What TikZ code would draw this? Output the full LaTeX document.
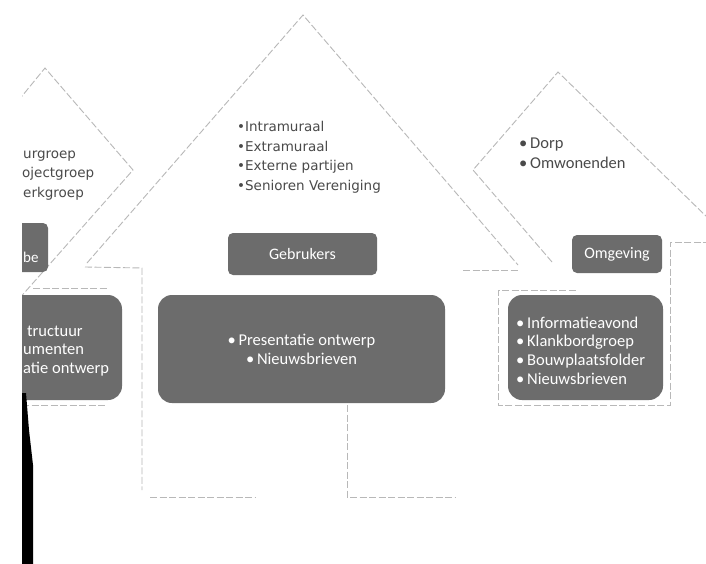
\documentclass[tikz,border=0pt]{standalone}
\usepackage{fontspec}
\setmainfont{DejaVu Sans}
\newfontfamily\carl{Carlito}
\definecolor{boxgray}{HTML}{6C6C6C}
\definecolor{txtgray}{HTML}{4A4A4A}
\definecolor{linegray}{HTML}{B8B8B8}
\tikzset{
  outline/.style={draw=linegray, line width=0.9pt, dash pattern=on 7pt off 2.5pt},
  labelbox/.style={fill=boxgray, rounded corners=5pt, text=white, inner sep=0pt,
    font=\carl\fontsize{16}{19}\selectfont},
  contentbox/.style={fill=boxgray, rounded corners=14pt, text=white, inner sep=0pt,
    align=center, font=\carl\fontsize{16.5}{19}\selectfont},
  listtxt/.style={text=txtgray, anchor=base west, inner sep=0pt,
    font=\fontsize{13.5}{19}\selectfont},
  rlisttxt/.style={text=txtgray, anchor=base west, inner sep=0pt,
    font=\carl\fontsize{16.5}{19}\selectfont},
  wtxt/.style={text=white, anchor=base west, inner sep=0pt,
    font=\carl\fontsize{16.5}{19}\selectfont}
}
\begin{document}
\begin{tikzpicture}[x=1pt,y=-1pt]
\useasboundingbox[fill=white] (0,0) rectangle (706,564);
\begin{scope}
\clip (22,0) rectangle (706,564);
% outlines of the three house shapes
\draw[outline] (87,263) -- (303,15) -- (518,265);
\draw[outline] (85,267) -- (142,268) -- (142,490);
\draw[outline] (463,270) -- (520,270);
\draw[outline] (150,497) -- (255,497);
\draw[outline] (347,405) -- (347,497) -- (455,497);
\draw[outline] (18,101) -- (45,68) -- (133,170) -- (18,300);
\draw[outline] (33,288) -- (107,288);
\draw[outline] (22,405) -- (107,405);
\draw[outline] (552,262) -- (473,170) -- (558,72) -- (710,220);
\draw[outline] (710,242) -- (670,242) -- (670,405) -- (498,405) -- (498,290) -- (577,290);
% left house
\node[listtxt] (l1) at (23,159) {urgroep};
\node[listtxt] (l2) at (22,178) {ojectgroep};
\node[listtxt] (l3) at (23,197) {erkgroep};
\fill[boxgray, rounded corners=5pt] (0,223) rectangle (48,272);
\node[wtxt, font=\carl\fontsize{15}{19}\selectfont] (lb) at (23,262) {be};
\fill[boxgray, rounded corners=14pt] (0,295) rectangle (122,400);
\node[wtxt] (lc1) at (27,336) {tructuur};
\node[wtxt] (lc2) at (23,354) {umenten};
\node[wtxt] (lc3) at (23,373) {atie ontwerp};
% central house
\node[listtxt] (c1) at (237,132) {•Intramuraal};
\node[listtxt] (c2) at (237,151.5) {•Extramuraal};
\node[listtxt] (c3) at (237,171) {•Externe partijen};
\node[listtxt] (c4) at (237,190) {•Senioren Vereniging};
\node[labelbox, minimum width=149pt, minimum height=42pt] (geb) at (302.5,254) {Gebrukers};
\node[contentbox, minimum width=287pt, minimum height=108pt] (ccont) at (301.5,349)
  {•\,Presentatie ontwerp\\ •\,Nieuwsbrieven};
% right house
\node[rlisttxt] (r1) at (519,149) {•\,Dorp};
\node[rlisttxt] (r2) at (519,169) {•\,Omwonenden};
\node[labelbox, minimum width=90pt, minimum height=38pt] (omg) at (617,254) {Omgeving};
\node[contentbox, minimum width=155pt, minimum height=105pt] (rcont) at (585.5,347.5) {};
\node[wtxt] (rc1) at (516,328) {•\,Informatieavond};
\node[wtxt] (rc2) at (516,346) {•\,Klankbordgroep};
\node[wtxt] (rc3) at (516,365) {•\,Bouwplaatsfolder};
\node[wtxt] (rc4) at (516,384) {•\,Nieuwsbrieven};
\end{scope}
% black edge of the scanned page
\fill[black] (22,393) -- (26,393) -- (29,430) -- (33,465) -- (33,564) -- (22,564) -- cycle;
\end{tikzpicture}
\end{document}
